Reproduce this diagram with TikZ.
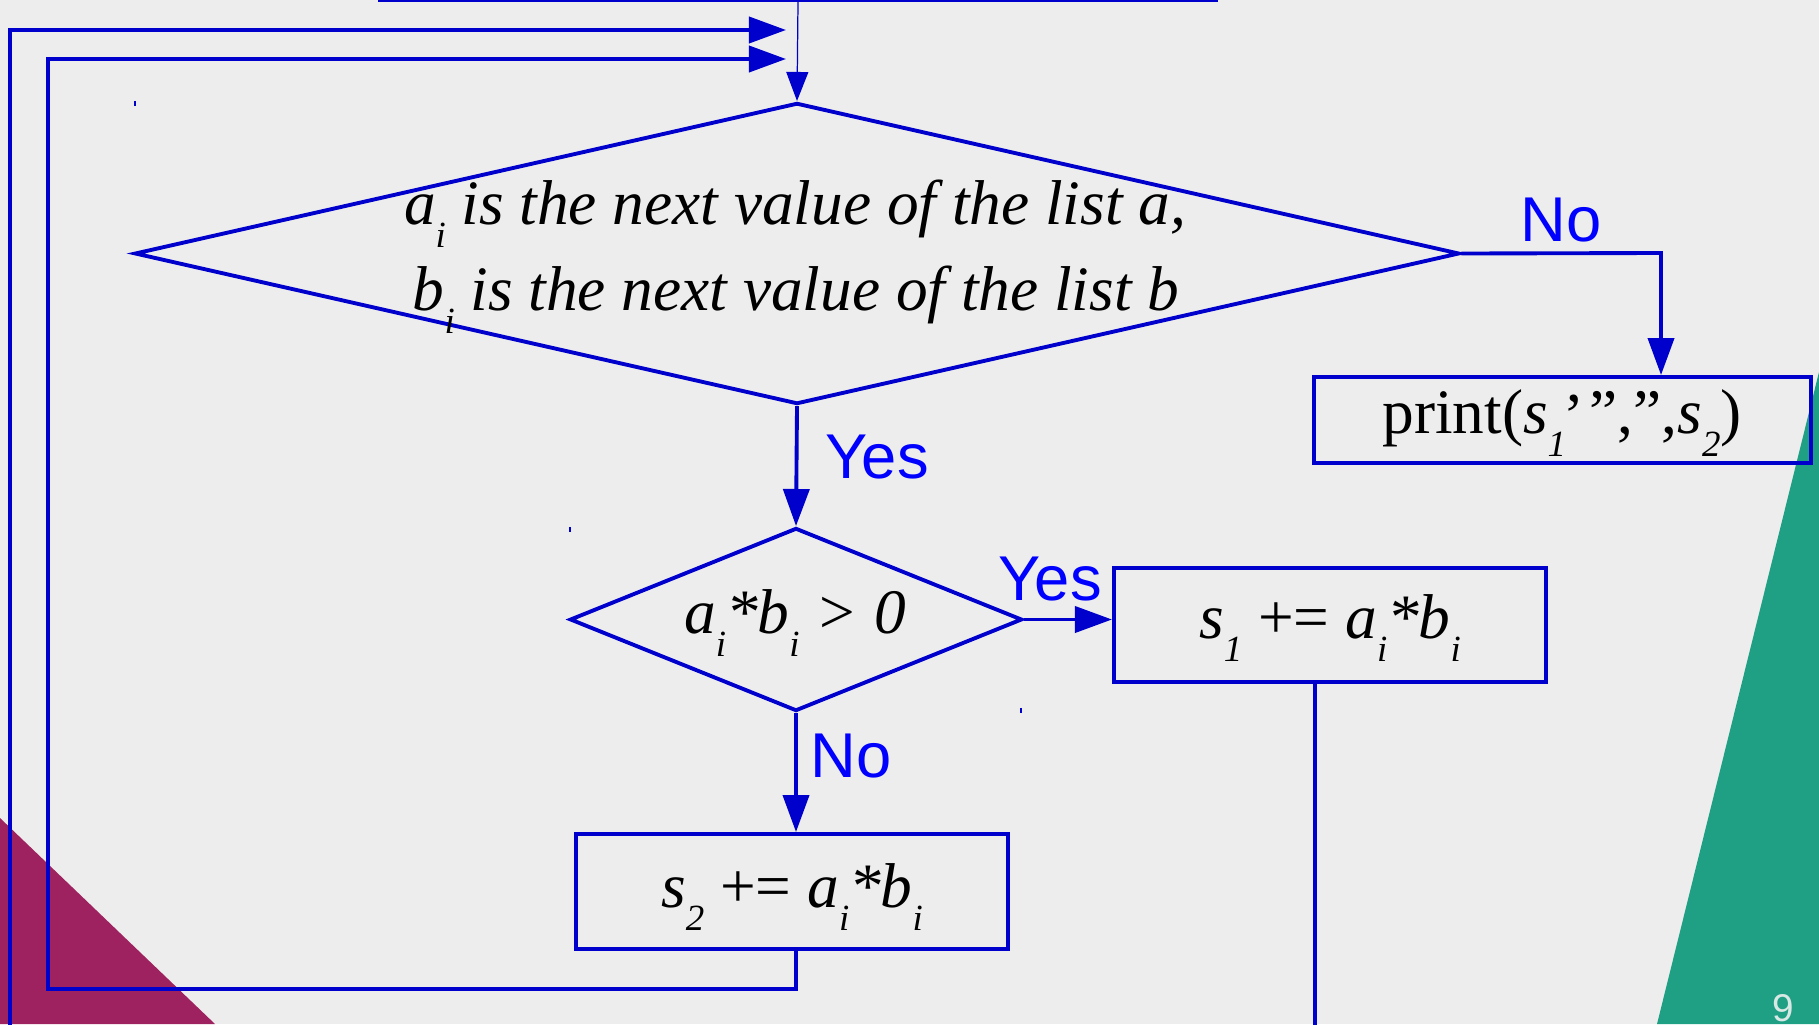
\documentclass[tikz,border=0pt]{standalone}
\usepackage{fontspec}
\setmainfont{Liberation Serif}
\setsansfont{Liberation Sans}
\usepackage{graphicx}
\usetikzlibrary{shapes.geometric,arrows.meta}
\definecolor{bgc}{HTML}{EDEDED}
\definecolor{lnc}{HTML}{0000CC}
\definecolor{lbc}{HTML}{0000FF}
\definecolor{magc}{HTML}{9E2260}
\definecolor{grnc}{HTML}{1FA085}
\definecolor{pgc}{HTML}{D8E8E4}
\newcommand\sbx[1]{\raisebox{-0.37em}{\fontsize{10.5pt}{12pt}\selectfont #1}}
\tikzset{
  ln/.style={draw=lnc, line width=1.1pt},
  arr/.style={ln, -{Triangle[length=0.37cm,width=0.26cm]}},
  thinarr/.style={draw=lnc, line width=0.35pt, -{Triangle[length=0.29cm,width=0.22cm]}},
  box/.style={rectangle, ln, inner sep=0pt},
  dia/.style={diamond, ln, inner sep=0pt},
  txt/.style={font=\fontsize{18pt}{21pt}\selectfont\itshape, inner sep=0pt, anchor=base},
  eqt/.style={txt, font=\fontsize{18pt}{21pt}\selectfont\itshape},
  lbl/.style={font=\sffamily\fontsize{18pt}{21pt}\selectfont, text=lbc, inner sep=0pt, anchor=base},
  tick/.style={draw=lnc, line width=0.3pt}
}
\begin{document}
\begin{tikzpicture}[x=0.01cm,y=-0.01cm]
\useasboundingbox (0,0) rectangle (1819,1024);
\clip (0,0) rectangle (1819,1024);
\fill[bgc] (0,0) rectangle (1819,1024);
\fill[magc] (0,818) -- (215,1024) -- (0,1024) -- cycle;
\fill[grnc] (1819,372) -- (1657,1024) -- (1819,1024) -- cycle;
\node[font=\sffamily\fontsize{11pt}{13pt}\selectfont, text=pgc, inner sep=0pt] (pg) at (1783,1008) {9};

% nodes
\node[box, minimum width=8.36cm, minimum height=1cm, anchor=south] (topbox) at (798,1.5) {};
\node[dia, minimum width=13.24cm, minimum height=3.01cm] (d1) at (797,253.5) {};
\node[dia, minimum width=4.52cm, minimum height=1.83cm] (d2) at (796,619.5) {};
\node[box, minimum width=4.97cm, minimum height=0.86cm] (pr) at (1562.5,420) {};
\node[box, minimum width=4.32cm, minimum height=1.14cm] (s1) at (1330,625) {};
\node[box, minimum width=4.325cm, minimum height=1.15cm] (s2) at (792,891.5) {};

% texts
\node[txt] (t1) at (795,224) {a\sbx{i} is the next value of the list a,};
\node[txt] (t2) at (796,310) {b\sbx{i} is the next value of the list b};
\node[txt] (t3) at (795,633) {a\sbx{i}*b\sbx{i} > 0};
\node[eqt] (t4) at (1330,638) {s\sbx{1} {\upshape +=} a\sbx{i}*b\sbx{i}};
\node[eqt] (t5) at (792,907) {s\sbx{2} {\upshape +=} a\sbx{i}*b\sbx{i}};
\node[txt, font=\fontsize{18pt}{21pt}\selectfont] (t6) at (1562,433) {print(\textit{s}\sbx{\textit{1}}\raisebox{0.5em}{,}\kern0.12em”,”,\textit{s}\sbx{\textit{2}})};

% labels
\node[lbl] (no1) at (1561,241) {No};
\node[lbl] (yes1) at (877,478) {Yes};
\node[lbl] (yes2) at (1050,600) {Yes};
\node[lbl] (no2) at (851,777) {No};

% coordinates
\coordinate (nc) at (1661,253);
\coordinate (in0) at (786,30);
\coordinate (in1) at (786,59);
\coordinate (o0) at (10,1040);
\coordinate (o1) at (10,30);
\coordinate (l0) at (796,989);
\coordinate (l1) at (48,989);
\coordinate (l2) at (48,59);
\coordinate (s1out) at (1315,1040);

% connectors
\draw[thinarr] (topbox.south) -- (d1.north);
\draw[arr] (d1.east) -- (nc) -- (nc |- pr.north);
\draw[arr] (d1.south) -- (d2.north);
\draw[arr] (d2.east) -- (d2.east -| s1.west);
\draw[arr] (d2.south) -- (d2.south |- s2.north);
\draw[arr] (l0 |- s2.south) -- (l0) -- (l1) -- (l2) -- (in1);
\draw[arr] (o0) -- (o1) -- (in0);
\draw[ln] (s1out |- s1.south) -- (s1out);

% small corner marks
\draw[tick] (135,101) -- (135,106);
\draw[tick] (570,527) -- (570,532);
\draw[tick] (1021,708) -- (1021,713);
\end{tikzpicture}
\end{document}
